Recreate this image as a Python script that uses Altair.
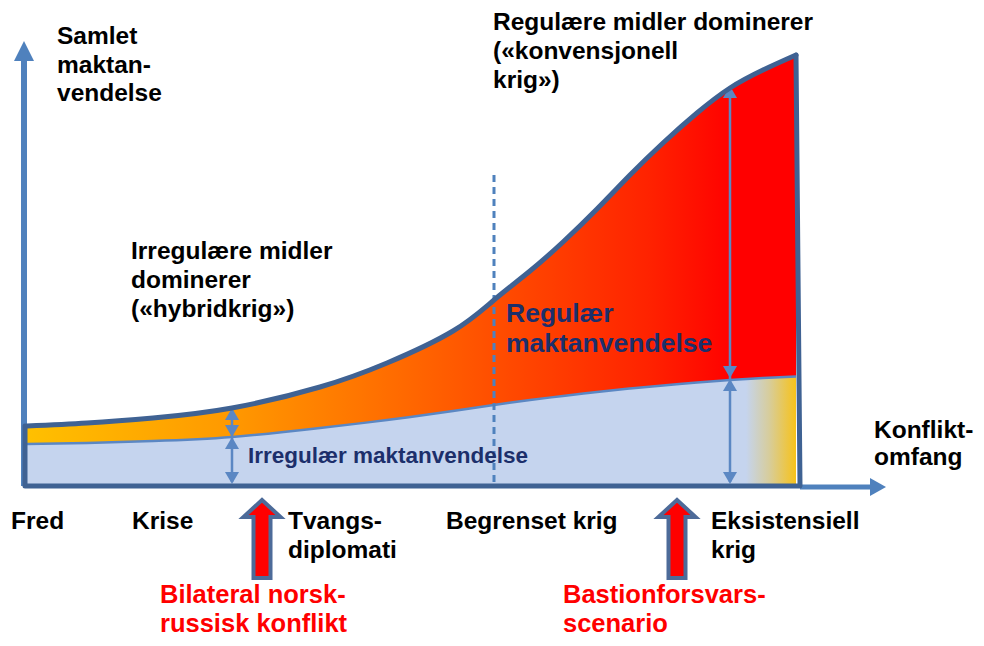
import altair as alt
import pandas as pd

# ---- data (picture pixel units) ----
conflict_x = [27, 87, 153, 232, 320, 387, 453, 494, 530, 563, 597, 630, 663, 697, 730, 763, 796]
total_force = [426, 423, 418, 408, 387, 363, 331, 300, 271, 242, 209, 175, 143, 113, 88, 70, 55]
irregular_force = [444, 443, 441, 437, 428, 420, 411, 405, 400, 396, 392, 388.5, 385.5, 382.5, 380, 378, 376.5]
baseline = 486
axis_x = 24
right_edge_x = 800
CURVE = "natural"

# ---- layout ----
W, H = 968, 630
xs = alt.Scale(domain=[8, 8 + W], nice=False, zero=False)
ys = alt.Scale(domain=[8, 8 + H], nice=False, zero=False, reverse=True)

def X(f):
    return alt.X(f, type="quantitative", scale=xs, axis=None)

def Y(f):
    return alt.Y(f, type="quantitative", scale=ys, axis=None)

AXIS_BLUE = "#4F81BD"
DARK_BLUE = "#3F6293"
THIN_BLUE = "#5B87C3"
NAVY = "#1C2F6B"
FONT = "Liberation Sans"

curves = pd.DataFrame({"x": conflict_x, "total": total_force,
                       "irr": irregular_force, "base": [baseline] * len(conflict_x)})

grad_blue = alt.Gradient(
    gradient="linear", x1=0, x2=1, y1=0, y2=0,
    stops=[alt.GradientStop(color="#C5D4EE", offset=0),
           alt.GradientStop(color="#C5D4EE", offset=0.935),
           alt.GradientStop(color="#D7CD9C", offset=0.965),
           alt.GradientStop(color="#F7C21A", offset=1)])

grad_red = alt.Gradient(
    gradient="linear", x1=0, x2=1, y1=0, y2=0,
    stops=[alt.GradientStop(color="#FFC000", offset=0),
           alt.GradientStop(color="#FF9800", offset=0.27),
           alt.GradientStop(color="#FF6A00", offset=0.485),
           alt.GradientStop(color="#FF4E00", offset=0.607),
           alt.GradientStop(color="#FF2200", offset=0.81),
           alt.GradientStop(color="#FF0000", offset=0.92),
           alt.GradientStop(color="#FF0000", offset=1)])

blue_area = alt.Chart(curves).mark_area(interpolate=CURVE, color=grad_blue).encode(
    x=X("x"), y=Y("irr"), y2=alt.Y2("base"))
red_area = alt.Chart(curves).mark_area(interpolate=CURVE, color=grad_red).encode(
    x=X("x"), y=Y("total"), y2=alt.Y2("irr"))
irr_line = alt.Chart(curves).mark_line(interpolate=CURVE, color=THIN_BLUE, strokeWidth=2.5).encode(
    x=X("x"), y=Y("irr"))
total_line = alt.Chart(curves).mark_line(interpolate=CURVE, color=DARK_BLUE, strokeWidth=5,
                                         strokeCap="round").encode(x=X("x"), y=Y("total"))

frame = pd.DataFrame({
    "x": [conflict_x[-1], right_edge_x, axis_x + 1, axis_x + 1],
    "y": [total_force[-1], baseline, baseline, total_force[0]],
    "o": [0, 1, 2, 3]})
frame_line = alt.Chart(frame).mark_line(color=DARK_BLUE, strokeWidth=5, strokeJoin="round",
                                        strokeCap="round").encode(
    x=X("x"), y=Y("y"), order="o:Q")

# axes
yaxis = pd.DataFrame({"x": [axis_x], "y": [baseline], "y2": [60]})
yaxis_rule = alt.Chart(yaxis).mark_rule(color=AXIS_BLUE, strokeWidth=6).encode(
    x=X("x"), y=Y("y"), y2=alt.Y2("y2"))
xaxis = pd.DataFrame({"x": [right_edge_x], "x2": [871], "y": [487]})
xaxis_rule = alt.Chart(xaxis).mark_rule(color=AXIS_BLUE, strokeWidth=5).encode(
    x=X("x"), x2=alt.X2("x2"), y=Y("y"))

up_head_big = alt.Chart(pd.DataFrame({"x": [axis_x], "y": [41]})).mark_point(
    shape="M 0 0 L 1 2 L -1 2 Z", size=400, filled=True, color=AXIS_BLUE, opacity=1).encode(
    x=X("x"), y=Y("y"))
right_head_big = alt.Chart(pd.DataFrame({"x": [886], "y": [487]})).mark_point(
    shape="M 0 0 L -1.6 -0.9 L -1.6 0.9 Z", size=400, filled=True, color=AXIS_BLUE, opacity=1).encode(
    x=X("x"), y=Y("y"))

# dashed separator
dash = pd.DataFrame({"x": [494], "y": [175], "y2": [baseline]})
dash_rule = alt.Chart(dash).mark_rule(color=AXIS_BLUE, strokeWidth=3, strokeDash=[7, 5]).encode(
    x=X("x"), y=Y("y"), y2=alt.Y2("y2"))

# dimension arrows
dims = pd.DataFrame({"x": [232, 730], "y": [411, 90], "y2": [482, 482]})
dim_rules = alt.Chart(dims).mark_rule(color=THIN_BLUE, strokeWidth=2.5).encode(
    x=X("x"), y=Y("y"), y2=alt.Y2("y2"))
ups = pd.DataFrame({"x": [232, 232, 730, 730], "y": [408, 437, 86, 379]})
downs = pd.DataFrame({"x": [232, 232, 730, 730], "y": [437, 484, 378, 484]})
up_heads = alt.Chart(ups).mark_point(shape="M 0 0 L 0.7 1.2 L -0.7 1.2 Z", size=400,
                                     filled=True, color=THIN_BLUE, opacity=1).encode(x=X("x"), y=Y("y"))
down_heads = alt.Chart(downs).mark_point(shape="M 0 0 L 0.7 -1.2 L -0.7 -1.2 Z", size=400,
                                         filled=True, color=THIN_BLUE, opacity=1).encode(x=X("x"), y=Y("y"))

# block arrows
blocks = pd.DataFrame({"x": [262, 677], "y": [500, 500]})
block_arrows = alt.Chart(blocks).mark_point(
    shape="M 0 0 L 1.85 1.7 L 0.85 1.7 L 0.85 7.8 L -0.85 7.8 L -0.85 1.7 L -1.85 1.7 Z",
    size=400, filled=True, fill="#FF0000", stroke="#4D6B99", strokeWidth=4, strokeJoin="miter",
    opacity=1).encode(x=X("x"), y=Y("y"))

# texts
labels = ["Samlet", "maktan-", "vendelse",
          "Regulære midler dominerer", "(«konvensjonell", "krig»)",
          "Irregulære midler", "dominerer", "(«hybridkrig»)",
          "Konflikt-", "omfang",
          "Fred", "Krise", "Tvangs-", "diplomati", "Begrenset krig", "Eksistensiell", "krig"]
label_x = [57, 57, 57, 493, 493, 493, 131, 131, 131, 874, 874,
           11, 132, 288, 288, 446, 711, 711]
label_y = [44, 73, 101, 30, 59, 88, 259, 288, 317, 438, 465,
           529, 529, 529, 558, 529, 529, 558]
black_text = alt.Chart(pd.DataFrame({"t": labels, "x": label_x, "y": label_y})).mark_text(
    align="left", baseline="alphabetic", font=FONT, fontWeight="bold", fontSize=24.5, color="#000000").encode(
    x=X("x"), y=Y("y"), text="t:N")

navy_labels = ["Regulær", "maktanvendelse"]
navy_text = alt.Chart(pd.DataFrame({"t": navy_labels, "x": [506, 506], "y": [322, 352]})).mark_text(
    align="left", baseline="alphabetic", font=FONT, fontWeight="bold", fontSize=26.5, color=NAVY).encode(
    x=X("x"), y=Y("y"), text="t:N")
navy_small = alt.Chart(pd.DataFrame({"t": ["Irregulær maktanvendelse"], "x": [248], "y": [463]})).mark_text(
    align="left", baseline="alphabetic", font=FONT, fontWeight="bold", fontSize=22.5, color=NAVY).encode(
    x=X("x"), y=Y("y"), text="t:N")

red_labels = ["Bilateral norsk-", "russisk konflikt", "Bastionforsvars-", "scenario"]
red_text = alt.Chart(pd.DataFrame({"t": red_labels, "x": [160, 160, 563, 563],
                                   "y": [603, 632, 603, 632]})).mark_text(
    align="left", baseline="alphabetic", font=FONT, fontWeight="bold", fontSize=25.5, color="#FF0000").encode(
    x=X("x"), y=Y("y"), text="t:N")

chart = alt.layer(
    blue_area, red_area, irr_line, dash_rule, dim_rules, up_heads, down_heads,
    xaxis_rule, right_head_big, yaxis_rule, up_head_big, total_line, frame_line,
    block_arrows, black_text, navy_text, navy_small, red_text
).properties(width=W, height=H, padding=0, autosize="none").configure_view(strokeWidth=0)

chart.save("out.html", embed_options={"renderer": "svg", "actions": False})
